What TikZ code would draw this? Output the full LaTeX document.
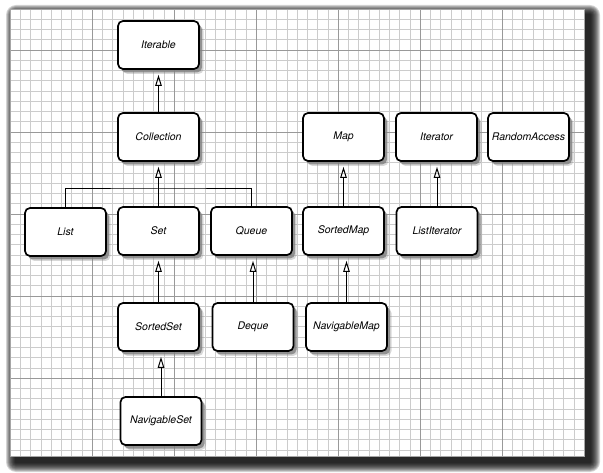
\documentclass[tikz,border=0pt]{standalone}
\usepackage{fontspec}
\setsansfont{TeX Gyre Heros}
\usetikzlibrary{arrows.meta,shadows}

\tikzset{
  iface/.style={draw=black, line width=1.7pt, fill=white, rounded corners=5pt,
    minimum width=81pt, minimum height=48pt, inner sep=0pt,
    font=\sffamily\itshape\fontsize{10.5}{12}\selectfont,
    drop shadow={shadow xshift=4.5pt, shadow yshift=-5pt, opacity=0.3},
    drop shadow={shadow xshift=3pt, shadow yshift=-3.5pt, opacity=0.8}},
  isa/.style={draw=black, line width=1pt,
    -{Triangle[open, length=11pt, width=6.5pt]}, shorten >=5pt},
  link/.style={draw=black, line width=1pt},
  minorline/.style={draw=gray!40, line width=0.5pt},
  majorline/.style={draw=gray!80, line width=0.8pt},
}

\begin{document}
\begin{tikzpicture}[x=1pt, y=-1pt]
  \useasboundingbox (0,0) rectangle (603,473);
  % soft shadow under the sheet
  \foreach \s in {1,...,10}
    \fill[black, opacity=0.17, rounded corners=\s pt] (16-\s,15-\s) rectangle (590+\s,462+\s);
  \fill[white] (10,9) rectangle (584,456);
  % graph paper
  \begin{scope}
    \clip (10,9) rectangle (584,456);
    \foreach \i in {0,...,56} { \draw[minorline] ({10+\i*10.25},9) -- ({10+\i*10.25},456); }
    \foreach \j in {0,...,44} { \draw[minorline] (10,{9+\j*10.25}) -- (584,{9+\j*10.25}); }
    \foreach \i in {1,...,6} { \draw[majorline] ({10+\i*82},9) -- ++(0,447); }
    \foreach \j in {0,...,4} { \draw[majorline] (10,{50+\j*82}) -- (584,{50+\j*82}); }
  \end{scope}
  \draw[gray!70, line width=0.6pt] (10,9) rectangle (584,456);

  \node[iface] (iterable) at (158.5,45) {Iterable};
  \node[iface] (collection) at (158.5,137) {Collection};
  \node[iface] (map) at (343.5,137) {Map};
  \node[iface] (iterator) at (436.5,137) {Iterator};
  \node[iface] (randomaccess) at (528.5,137) {RandomAccess};
  \node[iface] (list) at (65.5,232) {List};
  \node[iface] (set) at (158.5,231) {Set};
  \node[iface] (queue) at (251.5,231) {Queue};
  \node[iface] (sortedmap) at (343.5,231) {SortedMap};
  \node[iface] (listiterator) at (437,231) {ListIterator};
  \node[iface] (sortedset) at (158.5,327) {SortedSet};
  \node[iface] (deque) at (253,327) {Deque};
  \node[iface] (navigablemap) at (346.5,327) {NavigableMap};
  \node[iface] (navigableset) at (161,421) {NavigableSet};

  \coordinate (bus) at (158.5,189);
  \draw[isa] (collection.north) -- (iterable.south);
  \draw[isa] (set.north) -- (collection.south);
  \draw[link] (list.north) |- (bus) -| (queue.north);
  \draw[isa] (sortedmap.north) -- (sortedmap.north |- map.south);
  \draw[isa] (listiterator.north) -- (listiterator.north |- iterator.south);
  \draw[isa] (sortedset.north) -- (sortedset.north |- set.south);
  \draw[isa] (deque.north) -- (deque.north |- queue.south);
  \draw[isa] (navigablemap.north) -- (navigablemap.north |- sortedmap.south);
  \draw[isa] (navigableset.north) -- (navigableset.north |- sortedset.south);
\end{tikzpicture}
\end{document}
